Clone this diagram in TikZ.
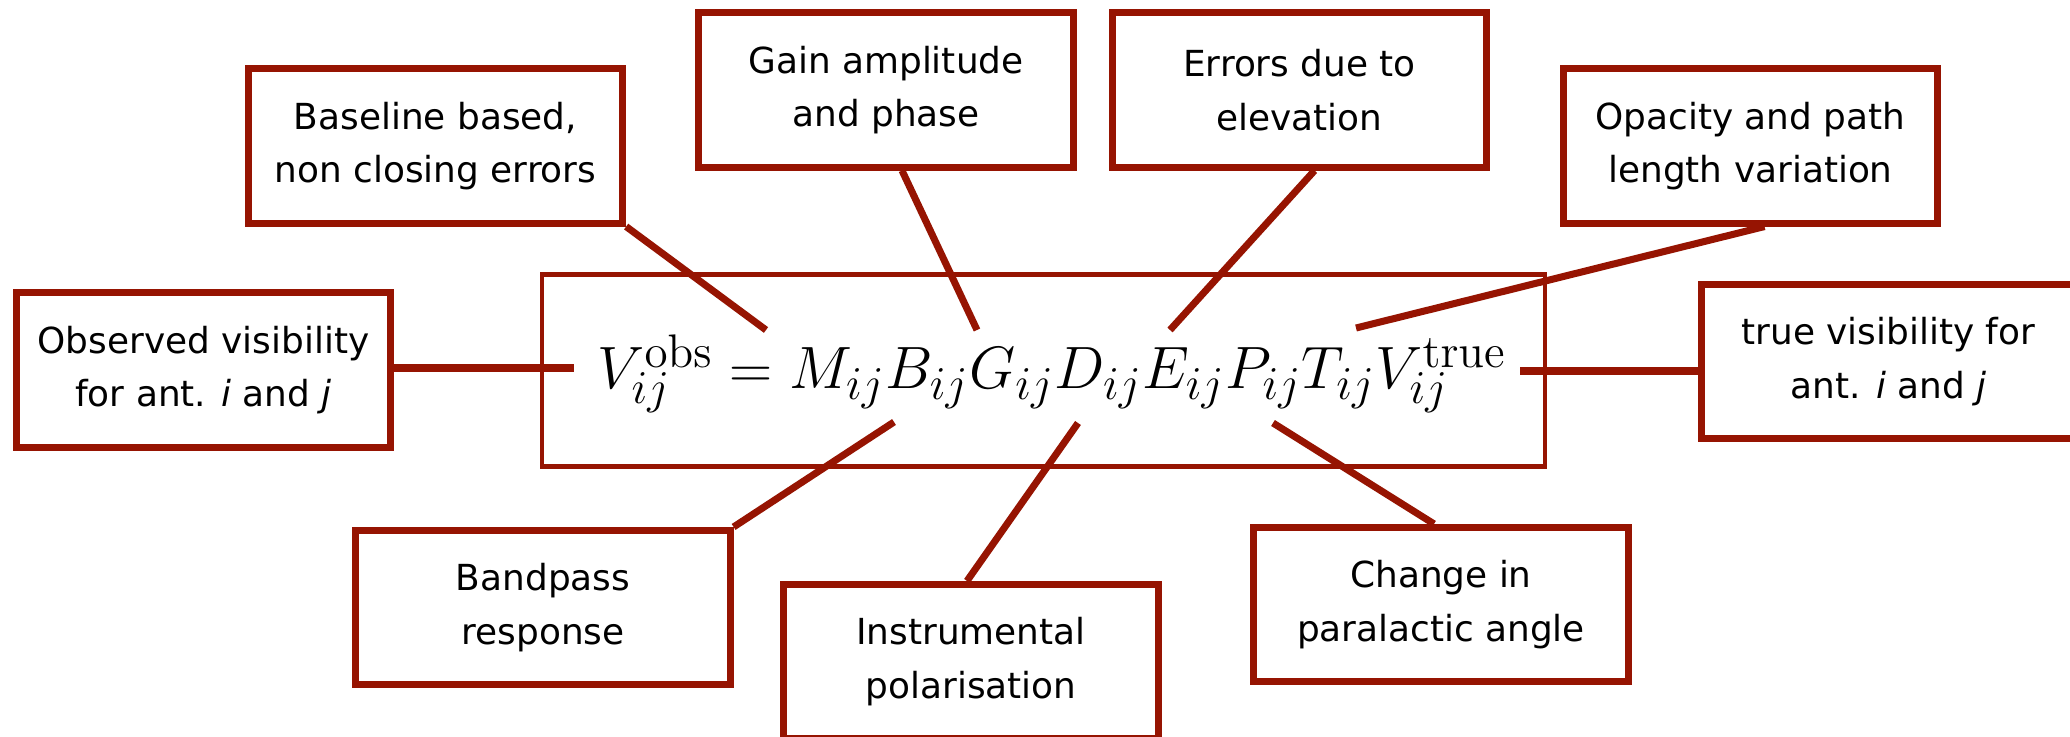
\RequirePackage{fix-cm}
\documentclass[tikz,border=0pt]{standalone}
\usepackage[no-math]{fontspec}
\setmainfont{DejaVu Sans}
\DeclareMathSizes{17}{17}{13.4}{10}
\definecolor{dred}{RGB}{150,20,2}
\tikzset{
  lbl/.style={draw=dred, line width=2pt, rectangle, align=center,
    minimum width=3.74cm, minimum height=1.54cm, inner sep=0pt,
    font=\fontsize{10.2}{15.2}\selectfont},
  conn/.style={draw=dred, line width=2pt},
}
\begin{document}
\begin{tikzpicture}[x=0.01cm,y=-0.01cm]
\useasboundingbox (0,0) rectangle (2070,737);
\clip (0,0) rectangle (2070,737);
% equation box
\node[draw=dred, line width=1.2pt, minimum width=10.02cm, minimum height=1.92cm, inner sep=0pt] (eqbox) at (1043.5,370.5) {};
\node[anchor=base, inner sep=0pt, font=\fontsize{17}{20}\selectfont] (eq) at (1052,389)
  {$V_{ij}^{\mathrm{obs}} = M_{ij}B_{ij}G_{ij}D_{ij}E_{ij}P_{ij}T_{ij}V_{ij}^{\mathrm{true}}$};
% label boxes
\node[lbl] (baseline) at (435.5,146) {Baseline based,\\non closing errors};
\node[lbl] (gain) at (886,90) {Gain amplitude\\and phase};
\node[lbl] (errors) at (1299.5,90) {Errors due to\\elevation};
\node[lbl] (opacity) at (1750.5,146) {Opacity and path\\length variation};
\node[lbl] (observed) at (203.5,370) {Observed visibility\\for ant. \textit{i} and \textit{j}};
\node[lbl] (truebox) at (1888.5,361.5) {true visibility for\\ant. \textit{i} and \textit{j}};
\node[lbl] (bandpass) at (543,607.5) {Bandpass\\response};
\node[lbl] (instr) at (971,661.5) {Instrumental\\polarisation};
\node[lbl] (change) at (1441,604.5) {Change in\\paralactic angle};
% connector ends near the equation
\coordinate (obsend) at (574,368);
\coordinate (trueend) at (1520,371);
\coordinate (bend) at (766,330);
\coordinate (gend) at (977,330);
\coordinate (eend) at (1170,330);
\coordinate (tend) at (1356,328);
\coordinate (bpend) at (894,422);
\coordinate (dend) at (1078,423);
\coordinate (pend) at (1273,423);
% connectors
\draw[conn] (observed.east |- obsend) -- (obsend);
\draw[conn] (trueend) -- (truebox.west |- trueend);
\draw[conn] (baseline.south east) -- (bend);
\draw[conn] ([xshift=0.16cm]gain.south) -- (gend);
\draw[conn] ([xshift=0.15cm]errors.south) -- (eend);
\draw[conn] ([xshift=0.14cm]opacity.south) -- (tend);
\draw[conn] (bandpass.north east) -- (bpend);
\draw[conn] ([xshift=-0.04cm]instr.north) -- (dend);
\draw[conn] ([xshift=-0.07cm]change.north) -- (pend);
\end{tikzpicture}
\end{document}
